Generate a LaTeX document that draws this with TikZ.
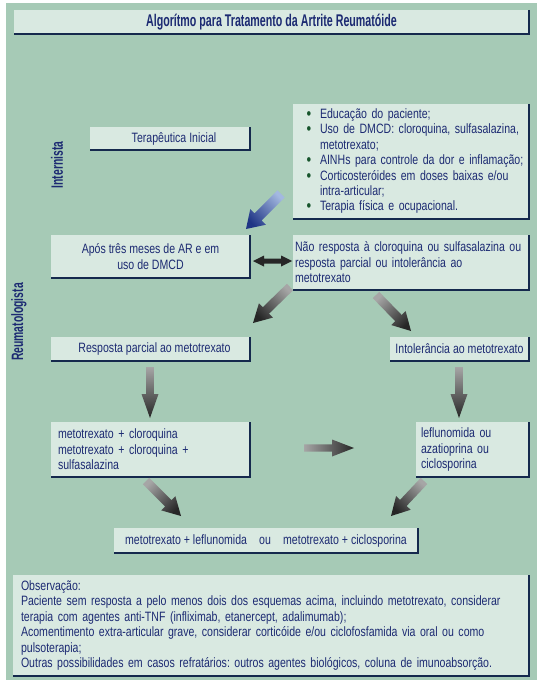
\documentclass[tikz,border=0pt]{standalone}
\usepackage{fontspec}
\setmainfont{Liberation Sans}[FakeStretch=0.78]
\newfontfamily\titlefont{Liberation Sans}[FakeStretch=0.63]
\usetikzlibrary{calc}
\definecolor{panel}{HTML}{A6CAB6}
\definecolor{boxfill}{HTML}{D9E9E1}
\definecolor{navy}{HTML}{1C2A72}
\definecolor{edgecol}{HTML}{15294D}
\definecolor{bulletgreen}{HTML}{17552C}
\definecolor{bluetail}{HTML}{A3B8E0}
\definecolor{bluehead}{HTML}{1F3585}
\newcommand\fatarrow[6][]{%
  \coordinate (fa-n) at ($(#3)!#6!(#2)$);
  \path[#1] ($(#2)!#4!90:(#3)$) -- ($(fa-n)!#4!90:(#3)$) -- ($(fa-n)!#5!90:(#3)$) -- (#3)
    -- ($(fa-n)!#5!-90:(#3)$) -- ($(fa-n)!#4!-90:(#3)$) -- ($(#2)!#4!-90:(#3)$) -- cycle;}
\newcommand\bul{\makebox[8bp]{\raisebox{-1bp}[0pt][0pt]{\textcolor{bulletgreen}{\fontsize{17}{0}\selectfont\textbullet}}}}
\tikzset{
  box/.style={fill=boxfill, inner sep=0pt, outer sep=0pt, anchor=north west, text=navy},
  rim/.style={draw=edgecol, line width=1.1bp},
  greyarrow/.style={top color=black!35, bottom color=black!85},
  bluearrow/.style={top color=bluetail, bottom color=bluehead},
  dblarrow/.style={left color=black!85, middle color=black!40, right color=black!85},
  rolelabel/.style={rotate=90, text=navy, font=\titlefont\bfseries\fontsize{16.5}{18}\selectfont},
}
\begin{document}
\frenchspacing
\begin{tikzpicture}[x=1bp, y=1bp, font=\fontsize{13.6}{15.5}\selectfont]
\useasboundingbox (0,0) rectangle (542,-683);
\fill[white] (0,0) rectangle (542,-683);
\fill[panel] (6,-3) rectangle (537,-680);

% title
\node[box, minimum width=515bp, minimum height=24bp,
      font=\titlefont\bfseries\fontsize{17}{18}\selectfont] (title) at (14,-10)
  {Algorítmo para Tratamento da Artrite Reumatóide};
\draw[rim] (title.north east) -- (title.south east) -- (title.south west);

% role labels
\node[rolelabel] (int) at (57,-165) {Internista};
\node[rolelabel] (reu) at (19,-322) {Reumatologista};

% boxes
\node[box, minimum width=160bp, minimum height=23bp] (ti) at (90,-127) {\hspace{8bp}Terapêutica Inicial};
\node[box, text width=236bp, minimum height=115bp, align=left] (bl) at (293,-104)
  {\noindent\begin{tabular}{@{\hspace{12bp}}c@{\hspace{7bp}}l@{}}
   \bul & Educação do paciente;\\
   \bul & Uso de DMCD: cloroquina, sulfasalazina,\\
        & metotrexato;\\
   \bul & AINHs para controle da dor e inflamação;\\
   \bul & Corticosteróides em doses baixas e/ou\\
        & intra-articular;\\
   \bul & Terapia física e ocupacional.
   \end{tabular}};
\node[box, minimum width=199bp, minimum height=43bp, align=center] (ap) at (51,-235)
  {Após três meses de AR e em\\uso de DMCD};
\node[box, text width=232bp, inner xsep=2bp, minimum height=55bp, align=left] (nr) at (293,-235)
  {\mbox{Não resposta à cloroquina ou sulfasalazina ou}\\\mbox{resposta parcial ou intolerância ao}\\metotrexato};
\node[box, minimum width=199bp, minimum height=24bp] (rp) at (51,-337) {\hspace{8bp}Resposta parcial ao metotrexato};
\node[box, minimum width=139bp, minimum height=24bp] (it) at (390,-337) {Intolerância ao metotrexato};
\node[box, text width=185bp, inner xsep=7bp, minimum height=55bp, align=left] (mc) at (51,-422)
  {metotrexato + cloroquina\\metotrexato + cloroquina +\\sulfasalazina};
\node[box, text width=103bp, inner xsep=5bp, minimum height=55bp, align=left] (lf) at (416,-422)
  {leflunomida ou\\azatioprina ou\\ciclosporina};
\node[box, minimum width=304bp, minimum height=25bp] (ml) at (114,-528)
  {metotrexato + leflunomida\hspace{0.9em}ou\hspace{0.9em}metotrexato + ciclosporina};
\node[box, text width=500bp, inner xsep=8bp, minimum height=101bp, align=left] (ob) at (13,-575)
  {Observação:\\
   \mbox{Paciente sem resposta a pelo menos dois dos esquemas acima, incluindo metotrexato, considerar}\\
   terapia com agentes anti-TNF (infliximab, etanercept, adalimumab);\\
   \mbox{Acomentimento extra-articular grave, considerar corticóide e/ou ciclofosfamida via oral ou como}\\
   pulsoterapia;\\
   \mbox{Outras possibilidades em casos refratários: outros agentes biológicos, coluna de imunoabsorção.}};

\foreach \n in {ti,bl,ap,nr,rp,it,mc,lf,ml,ob}
  \draw[rim] (\n.north east) -- (\n.south east) -- (\n.south west);

% arrow end points
\coordinate (a0t) at (281,-194); \coordinate (a0h) at (246,-229);
\coordinate (a1t) at (290,-287); \coordinate (a1h) at (253,-323);
\coordinate (a2t) at (376,-295); \coordinate (a2h) at (411,-331);
\coordinate (a3t) at (150,-367); \coordinate (a3h) at (150,-418);
\coordinate (a4t) at (459,-367); \coordinate (a4h) at (459,-418);
\coordinate (a5t) at (304,-448); \coordinate (a5h) at (354,-448);
\coordinate (a6t) at (146,-481); \coordinate (a6h) at (181,-516);
\coordinate (a7t) at (424,-481); \coordinate (a7h) at (391,-516);
\coordinate (dal) at (253,-261); \coordinate (dar) at (292,-261);

\fatarrow[bluearrow, shading angle=-47]{a0t}{a0h}{5bp}{11bp}{17bp}
\fatarrow[greyarrow, shading angle=-46]{a1t}{a1h}{4.5bp}{10bp}{18bp}
\fatarrow[greyarrow, shading angle=45]{a2t}{a2h}{4.5bp}{10bp}{18bp}
\fatarrow[greyarrow, shading angle=0]{a3t}{a3h}{3.8bp}{8.5bp}{24bp}
\fatarrow[greyarrow, shading angle=0]{a4t}{a4h}{3.8bp}{8.5bp}{24bp}
\fatarrow[greyarrow, shading angle=90]{a5t}{a5h}{3.7bp}{8.5bp}{22bp}
\fatarrow[greyarrow, shading angle=45]{a6t}{a6h}{4.5bp}{10bp}{18bp}
\fatarrow[greyarrow, shading angle=-44]{a7t}{a7h}{4.5bp}{10bp}{18bp}

\path[dblarrow] (dal) -- ++(11,5.5) -- ++(0,-3) -- ++(17,0) -- ++(0,3) -- (dar)
  -- ++(-11,-5.5) -- ++(0,3) -- ++(-17,0) -- ++(0,-3) -- cycle;
\end{tikzpicture}
\end{document}
